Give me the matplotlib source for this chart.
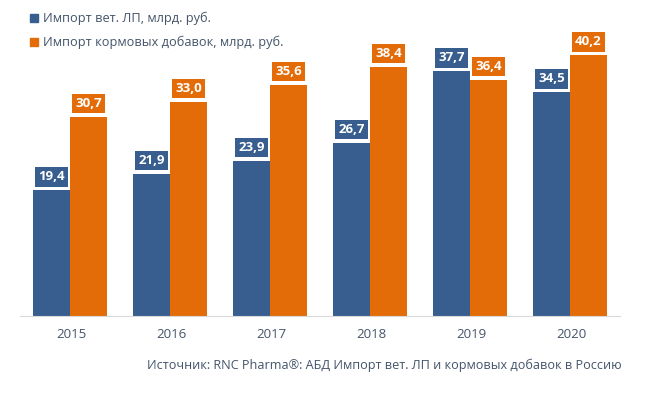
import matplotlib.pyplot as plt
from matplotlib.patches import Rectangle
import numpy as np

plt.rcParams['font.family'] = ['Open Sans', 'DejaVu Sans']

years = ["2015", "2016", "2017", "2018", "2019", "2020"]
vet_import = [19.4, 21.9, 23.9, 26.7, 37.7, 34.5]
feed_import = [30.7, 33.0, 35.6, 38.4, 36.4, 40.2]
series_names = ["Импорт вет. ЛП, млрд. руб.", "Импорт кормовых добавок, млрд. руб."]
source_text = "Источник: RNC Pharma®: АБД Импорт вет. ЛП и кормовых добавок в Россию"

blue = "#375E8F"
orange = "#E36C09"
text_col = "#44546A"

fig = plt.figure(figsize=(6.71, 3.95), dpi=100)
ax = fig.add_axes([20 / 671, 79 / 395, 600 / 671, 276 / 395])

x = np.arange(len(years))
w = 0.37
ax.bar(x - w / 2 - 0.01, vet_import, w, color=blue)
ax.bar(x + w / 2 - 0.01, feed_import, w, color=orange)

# value labels in coloured boxes above the bars
for xs, vals, col in [(x - w / 2 - 0.01, vet_import, blue), (x + w / 2 - 0.01, feed_import, orange)]:
    for xi, v in zip(xs, vals):
        ax.annotate(f"{v:.1f}".replace(".", ","), (xi, v), xytext=(0, 9.5),
                    textcoords="offset points", ha="center", va="center",
                    color="white", fontsize=9.5, fontweight="bold",
                    bbox=dict(boxstyle="square,pad=0.25", fc=col, ec="none"))

ax.set_xlim(-0.51, 5.49)
ax.set_ylim(0, 42.5)
ax.set_xticks(x)
ax.set_xticklabels(years, color=text_col, fontsize=9.5)
ax.tick_params(axis="x", length=0, pad=9)
ax.set_yticks([])
for s in ["top", "right", "left"]:
    ax.spines[s].set_visible(False)
ax.spines["bottom"].set_color("#D9D9D9")

# legend drawn by hand at top-left
for i, (name, col) in enumerate(zip(series_names, [blue, orange])):
    yc = 18 + 24 * i
    fig.patches.append(Rectangle((30 / 671, 1 - (yc + 4) / 395), 8 / 671, 8 / 395,
                                 transform=fig.transFigure, color=col))
    fig.text(43 / 671, 1 - yc / 395, name, color=text_col, fontsize=9.2,
             va="center", ha="left")

fig.text(622 / 671, 1 - 365 / 395, source_text, color=text_col, fontsize=9.1,
         ha="right", va="center")

fig.savefig("out.png", dpi=100)
